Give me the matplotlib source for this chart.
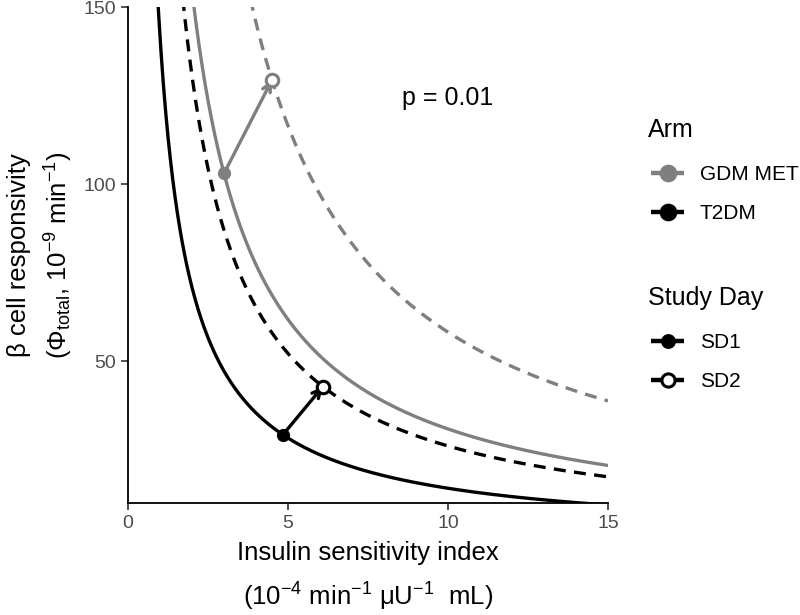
import numpy as np
import matplotlib
matplotlib.use('Agg')
import matplotlib.pyplot as plt
from matplotlib.lines import Line2D

plt.rcParams['font.family'] = ['Liberation Sans', 'DejaVu Sans']
plt.rcParams['mathtext.fontset'] = 'custom'
plt.rcParams['mathtext.rm'] = 'Liberation Sans'
plt.rcParams['mathtext.it'] = 'Liberation Sans:italic'

# Точки (SI, Phi) для кожної групи: SD1 -> SD2
arms = ['GDM MET', 'T2DM']
arm_colors = ['#7f7f7f', 'black']
si_sd1 = [3.0, 4.84]
phi_sd1 = [103.1, 29.3]
si_sd2 = [4.5, 6.09]
phi_sd2 = [129.5, 42.9]
days = ['SD1', 'SD2']

x_ticks = [0, 5, 10, 15]
y_ticks = [50, 100, 150]

# Гіперболи постійного індексу диспозиції через кожну точку
x = np.linspace(0.5, 15, 600)

W, H = 800, 615
fig = plt.figure(figsize=(8, 6.15), dpi=100)
ax = fig.add_axes([0.16, 0.182, 0.6, 0.806])

for i in range(len(arms)):
    c = arm_colors[i]
    ax.plot(x, si_sd1[i] * phi_sd1[i] / x, color=c, lw=2.4, solid_capstyle='butt')
    ax.plot(x, si_sd2[i] * phi_sd2[i] / x, color=c, lw=2.4, dashes=(3.6, 2.5))
    ax.annotate('', xy=(si_sd2[i], phi_sd2[i]), xytext=(si_sd1[i], phi_sd1[i]),
                arrowprops=dict(arrowstyle='->', color=c, lw=2.4,
                                shrinkA=0, shrinkB=0, mutation_scale=15))
    ax.plot(si_sd1[i], phi_sd1[i], 'o', color=c, ms=8.5, zorder=5)
    ax.plot(si_sd2[i], phi_sd2[i], 'o', color=c, mfc='white', mew=2.2, ms=9, zorder=5)

ax.text(8.55, 124.4, 'p = 0.01', ha='left', va='center', fontsize=18)

ax.set_xlim(0, 15)
ax.set_ylim(10, 150)
ax.set_xticks(x_ticks)
ax.set_yticks(y_ticks)
ax.tick_params(labelsize=14, color='#333333', labelcolor='#4d4d4d', length=5, width=1.2)
ax.spines['top'].set_visible(False)
ax.spines['right'].set_visible(False)
for s in ['left', 'bottom']:
    ax.spines[s].set_linewidth(1.3)

fig.text(0.46, 0.101, 'Insulin sensitivity index', ha='center', va='center', fontsize=18.5)
fig.text(0.46, 0.029, '(10$^{-4}$ min$^{-1}$ μU$^{-1}$  mL)',
         ha='center', va='center', fontsize=18.5)
fig.text(0.024, 0.585, 'β cell responsivity', ha='center', va='center',
         rotation=90, fontsize=18.5)
fig.text(0.074, 0.585, r'($\Phi_{\mathrm{total}}$, 10$^{-9}$ min$^{-1}$)',
         ha='center', va='center', rotation=90, fontsize=18.5)


# Легенди вручну (координати в пікселях фігури)
def px(xp, yp):
    return xp / W, 1 - yp / H


def key(yc, color, filled, ms):
    x0, y0 = px(651, yc)
    x1, _ = px(684, yc)
    fig.add_artist(Line2D([x0, x1], [y0, y0], transform=fig.transFigure,
                          color=color, lw=3.2, solid_capstyle='butt'))
    fig.add_artist(Line2D([(x0 + x1) / 2], [y0], transform=fig.transFigure,
                          color=color, marker='o', ms=ms, mew=2.2,
                          mfc=color if filled else 'white'))


fig.text(*px(648, 137), 'Arm', fontsize=18, va='baseline', ha='left')
for j, (lab, yb) in enumerate(zip(arms, [180, 219])):
    key(yb - 7, arm_colors[j], True, 10.5)
    fig.text(*px(700, yb), lab, fontsize=15, va='baseline', ha='left')

fig.text(*px(648, 305), 'Study Day', fontsize=18, va='baseline', ha='left')
for j, (lab, yb) in enumerate(zip(days, [348, 387])):
    key(yb - 7, 'black', j == 0, 8.5 if j == 0 else 9.5)
    fig.text(*px(700, yb), lab, fontsize=15, va='baseline', ha='left')

fig.savefig('out.png', dpi=100)
